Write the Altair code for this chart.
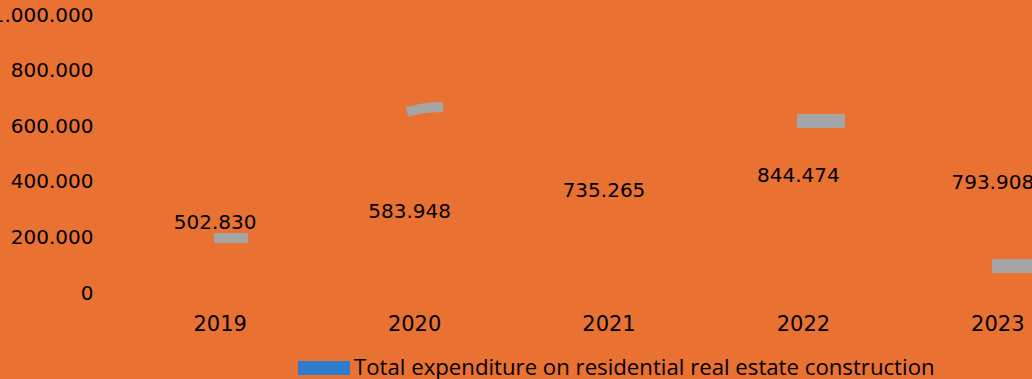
import altair as alt
import pandas as pd

years = ["2019", "2020", "2021", "2022", "2023"]
values = [502830, 583948, 735265, 844474, 793908]
series_name = "Total expenditure on residential real estate construction"

# grey fragments (x in category-index units, y in data units)
grey_id = ["a", "a", "b", "b", "b", "c", "c", "d", "d"]
grey_x = [-0.032, 0.143, 0.961, 1.053, 1.146, 2.967, 3.214, 3.970, 4.217]
grey_y = [198000, 198000, 651000, 665000, 669000, 619000, 619000, 97000, 97000]
grey_w = [10, 10, 10, 10, 10, 14, 14, 14, 14]

BG = "#E97132"
FONT = "DejaVu Sans"

bars_df = pd.DataFrame({"year": years, "value": values, "series": [series_name] * 5})
grey_df = pd.DataFrame({"id": grey_id, "x": grey_x, "y": grey_y, "w": grey_w})

yscale = alt.Scale(domain=[0, 1000000], nice=False)
xband = alt.Scale(domain=years, range=[0, 972], paddingInner=0.35, paddingOuter=0.175)

base = alt.Chart(bars_df)

bars = base.mark_bar(opacity=0).encode(
    x=alt.X("year:N", scale=xband, sort=years,
            axis=alt.Axis(title=None, labelAngle=0, domain=False, ticks=False,
                          labelFont=FONT, labelFontSize=21, labelColor="black",
                          labelBaseline="middle", labelPadding=31)),
    y=alt.Y("value:Q", scale=yscale,
            axis=alt.Axis(title=None, values=[0, 200000, 400000, 600000, 800000, 1000000],
                          format=",.0f", domain=False, ticks=False, tickSize=0, grid=False,
                          labelFont=FONT, labelFontSize=20, labelColor="black",
                          labelPadding=30)),
    color=alt.Color("series:N", scale=alt.Scale(range=["#2E7BCF"]),
                    legend=alt.Legend(title=None, orient="none", legendX=175, legendY=327,
                                      symbolType="M-1,-0.27L1,-0.27L1,0.27L-1,0.27Z",
                                      symbolSize=2704, symbolOpacity=1, symbolStrokeWidth=0,
                                      labelFont="Open Sans", labelFontSize=22.2, labelColor="black",
                                      labelOffset=4, padding=0, labelLimit=900)),
)

labels = base.transform_calculate(mid="datum.value / 2").mark_text(
    font=FONT, fontSize=20, color="black", dx=-5, baseline="middle"
).encode(
    x=alt.X("year:N", scale=xband, sort=years),
    y=alt.Y("mid:Q", scale=yscale),
    text=alt.Text("value:Q", format=",.0f"),
)

grey = alt.Chart(grey_df).mark_line(color="#A5A5A5", strokeCap="butt", interpolate="monotone").encode(
    x=alt.X("x:Q", scale=alt.Scale(domain=[-0.5, 4.5], range=[0, 972], nice=False, zero=False), axis=None),
    y=alt.Y("y:Q", scale=yscale),
    detail="id:N",
    strokeWidth=alt.StrokeWidth("w:Q", scale=None),
)

chart = alt.layer(alt.layer(bars, labels), grey).resolve_scale(x="independent").properties(
    width=909, height=278,
    autosize=alt.AutoSizeParams(type="none"),
    padding={"left": 123, "top": 15, "right": 0, "bottom": 86},
    background=BG,
).configure(
    locale={"number": {"decimal": ",", "thousands": ".", "grouping": [3], "currency": ["", "€"]}},
    view=alt.ViewConfig(stroke="transparent", strokeWidth=0),
    axis=alt.AxisConfig(domain=False, ticks=False, grid=False),
)

chart.save("out.html", embed_options={"renderer": "svg", "actions": False})
